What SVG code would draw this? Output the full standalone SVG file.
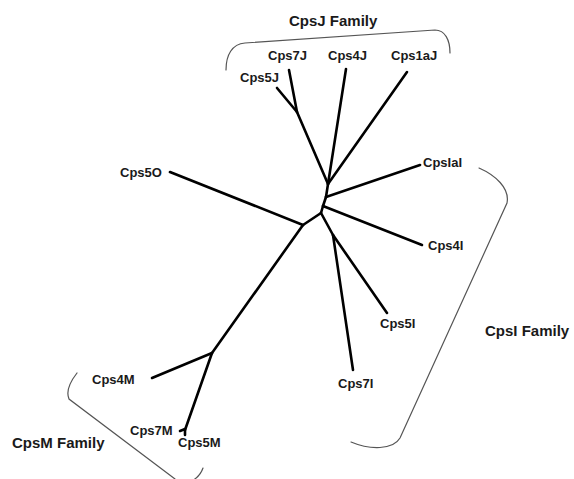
<svg xmlns="http://www.w3.org/2000/svg" width="574" height="479" viewBox="0 0 574 479">
<style>
.lbl{font-family:"Liberation Sans",Arial,sans-serif;font-weight:bold;font-size:13px;fill:#1a1a1a}
.fam{font-family:"Liberation Sans",Arial,sans-serif;font-weight:bold;font-size:15px;fill:#1a1a1a}
.br{fill:none;stroke:#555;stroke-width:1.2;stroke-linecap:round}
.ed{fill:none;stroke:#000;stroke-width:2.6;stroke-linecap:round;stroke-linejoin:round}
</style>
<rect width="574" height="479" fill="#fff"/>
<g id="connectors">
<path class="ed" d="M303,225 L170,172"/>
<path class="ed" d="M303,225 L212,353"/>
<path class="ed" d="M303,225 L321,213"/>
<path class="ed" d="M321,213 L333,235"/>
<path class="ed" d="M321,213 L323,206"/>
<path class="ed" d="M323,206 L422,245"/>
<path class="ed" d="M323,206 L326,197"/>
<path class="ed" d="M326,197 L420,165"/>
<path class="ed" d="M326,197 L328,184"/>
<path class="ed" d="M328,184 L407,72"/>
<path class="ed" d="M328,184 L346,69"/>
<path class="ed" d="M328,184 L297,112"/>
<path class="ed" d="M297,112 L277,88"/>
<path class="ed" d="M297,112 L289,70"/>
<path class="ed" d="M333,235 L387,313"/>
<path class="ed" d="M333,235 L353,370"/>
<path class="ed" d="M212,353 L152,378"/>
<path class="ed" d="M212,353 L185,430"/>
<path class="ed" d="M180,431 L185,429 L185,435"/>
</g>
<g id="CpsJFamily">
<path class="br" d="M226,70 C226,55 232,44 245,43 L435,30 C445,30 450,40 450,53"/>
<text class="fam" x="289" y="26">CpsJ Family</text>
</g>
<g id="CpsIFamily">
<path class="br" d="M479,168 C495,175 510,188 507,203 L400,438 C393,450 370,450 351,442"/>
<text class="fam" x="485" y="336">CpsI Family</text>
</g>
<g id="CpsMFamily">
<path class="br" d="M77,373 C70,382 66,392 69,399 L175,479 M203,468 C201,474 197,478 192,481"/>
<text class="fam" x="12" y="448">CpsM Family</text>
</g>
<g id="Cps7J"><text class="lbl" x="268" y="60">Cps7J</text></g>
<g id="Cps4J"><text class="lbl" x="328" y="60">Cps4J</text></g>
<g id="Cps1aJ"><text class="lbl" x="391" y="60">Cps1aJ</text></g>
<g id="Cps5J"><text class="lbl" x="240" y="82">Cps5J</text></g>
<g id="Cps5O"><text class="lbl" x="120" y="177">Cps5O</text></g>
<g id="CpsIaI"><text class="lbl" x="423" y="167">CpsIaI</text></g>
<g id="Cps4I"><text class="lbl" x="428" y="250">Cps4I</text></g>
<g id="Cps5I"><text class="lbl" x="380" y="328">Cps5I</text></g>
<g id="Cps7I"><text class="lbl" x="338" y="388">Cps7I</text></g>
<g id="Cps4M"><text class="lbl" x="92" y="384">Cps4M</text></g>
<g id="Cps7M"><text class="lbl" x="130" y="435">Cps7M</text></g>
<g id="Cps5M"><text class="lbl" x="178" y="447">Cps5M</text></g>
</svg>
